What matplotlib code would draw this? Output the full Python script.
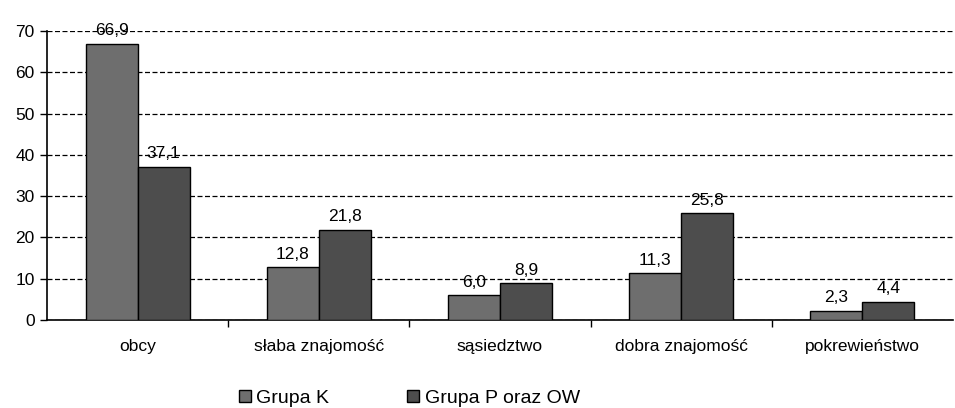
import matplotlib.pyplot as plt
import numpy as np

plt.rcParams['font.family'] = ['Liberation Sans', 'DejaVu Sans']

categories = ['obcy', 'słaba znajomość', 'sąsiedztwo', 'dobra znajomość', 'pokrewieństwo']
grupa_k = [66.9, 12.8, 6.0, 11.3, 2.3]
grupa_p = [37.1, 21.8, 8.9, 25.8, 4.4]
labels = ['Grupa K', 'Grupa P oraz OW']
colors = ['#6e6e6e', '#4d4d4d']

fs = 12.5
fig = plt.figure(figsize=(9.55, 4.08), dpi=100)
ax = fig.add_axes([47/955, 1-320/408, 906/955, 289/408])

x = np.arange(len(categories))
w = 0.287
b1 = ax.bar(x - w/2, grupa_k, w, color=colors[0], edgecolor='black', linewidth=1, label=labels[0], zorder=3)
b2 = ax.bar(x + w/2, grupa_p, w, color=colors[1], edgecolor='black', linewidth=1, label=labels[1], zorder=3)

for bars, vals in ((b1, grupa_k), (b2, grupa_p)):
    for r, v in zip(bars, vals):
        ax.annotate(f"{v:.1f}".replace('.', ','), (r.get_x() + r.get_width()/2, v),
                    xytext=(0, 4), textcoords='offset points', ha='center', va='bottom',
                    fontsize=fs, zorder=4)

ax.set_xlim(-0.5, len(categories) - 0.5)
ax.set_ylim(0, 70)
ax.set_yticks(range(0, 71, 10))
ax.yaxis.grid(True, linestyle=(0, (4, 2)), color='black', linewidth=0.9, zorder=0)
ax.set_axisbelow(True)

ax.set_xticks(x)
ax.set_xticklabels(categories)
ax.set_xticks(np.arange(0.5, len(categories) - 1, 1), minor=True)
ax.tick_params(axis='x', which='major', length=0, pad=14, labelsize=fs)
ax.tick_params(axis='x', which='minor', length=5, direction='out', width=1)
ax.tick_params(axis='y', length=5, direction='out', width=1, labelsize=fs, pad=4)

for s in ['top', 'right']:
    ax.spines[s].set_visible(False)
ax.spines['left'].set_linewidth(1.2)
ax.spines['bottom'].set_linewidth(1.2)

ax.legend(loc='center', bbox_to_anchor=(0.40, -0.27), ncol=2, frameon=False,
          fontsize=14, handlelength=0.6, handleheight=0.6, handletextpad=0.3,
          columnspacing=4.0, borderaxespad=0, borderpad=0)

fig.savefig('out.png', dpi=100)
